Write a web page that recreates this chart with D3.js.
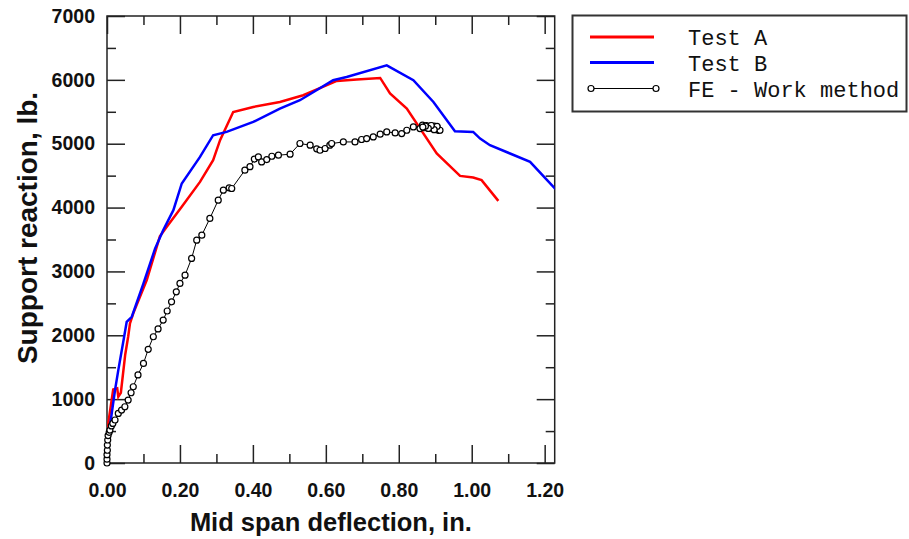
<!DOCTYPE html>
<html>
<head>
<meta charset="utf-8">
<script src="https://cdn.jsdelivr.net/npm/d3@7"></script>
<style>
  body { margin: 0; background: #fff; }
  svg { display: block; }
</style>
</head>
<body>
<div id="canvas"></div>
<script>
// deflection (in.) and support reaction (lb.)
const testAx = [0, 0.004, 0.017, 0.028, 0.031, 0.038, 0.05, 0.058, 0.063, 0.072, 0.109, 0.145, 0.164, 0.205, 0.255, 0.291, 0.31, 0.346, 0.401, 0.474, 0.538, 0.63, 0.685, 0.749, 0.776, 0.822, 0.904, 0.968, 1.004, 1.027, 1.073]
const testAy = [0, 646, 1150, 1169, 1038, 1100, 1700, 1977, 2186, 2343, 2864, 3550, 3700, 4011, 4402, 4742, 5055, 5497, 5576, 5654, 5759, 5983, 6004, 6030, 5786, 5551, 4847, 4496, 4471, 4429, 4105]

const testBx = [0, 0.001, 0.004, 0.013, 0.022, 0.031, 0.047, 0.054, 0.068, 0.1, 0.132, 0.154, 0.182, 0.205, 0.255, 0.291, 0.328, 0.401, 0.474, 0.529, 0.62, 0.657, 0.767, 0.84, 0.895, 0.954, 1.004, 1.023, 1.05, 1.105, 1.16, 1.224, 1.23]
const testBy = [0, 150, 410, 776, 1142, 1455, 1977, 2211, 2290, 2812, 3360, 3646, 3959, 4377, 4793, 5133, 5185, 5341, 5551, 5681, 5994, 6046, 6228, 5994, 5654, 5196, 5185, 5081, 4977, 4847, 4716, 4325, 4290]

const feX = [0, 0, 0, 0.001, 0.001, 0.002, 0.003, 0.006, 0.008, 0.012, 0.016, 0.022, 0.031, 0.04, 0.049, 0.058, 0.066, 0.072, 0.085, 0.1, 0.113, 0.127, 0.14, 0.154, 0.165, 0.177, 0.19, 0.2, 0.214, 0.232, 0.246, 0.26, 0.282, 0.305, 0.319, 0.335, 0.342, 0.378, 0.392, 0.404, 0.415, 0.424, 0.438, 0.452, 0.47, 0.502, 0.529, 0.557, 0.575, 0.584, 0.598, 0.611, 0.616, 0.648, 0.68, 0.698, 0.712, 0.73, 0.749, 0.767, 0.79, 0.808, 0.822, 0.84, 0.858, 0.865, 0.87, 0.876, 0.882, 0.888, 0.893, 0.897, 0.901, 0.905, 0.909, 0.913, 0.905, 0.897, 0.889, 0.881, 0.873, 0.866]
const feY = [0, 60, 130, 200, 280, 360, 430, 480, 516, 580, 620, 673, 776, 829, 881, 986, 1100, 1194, 1380, 1560, 1780, 1977, 2100, 2238, 2380, 2524, 2680, 2812, 2942, 3204, 3490, 3568, 3830, 4116, 4272, 4310, 4299, 4585, 4640, 4760, 4793, 4715, 4752, 4804, 4820, 4836, 5003, 4977, 4920, 4898, 4925, 4977, 5003, 5028, 5028, 5066, 5081, 5107, 5149, 5185, 5169, 5159, 5211, 5263, 5237, 5290, 5250, 5285, 5255, 5280, 5240, 5275, 5230, 5260, 5210, 5211, 5270, 5220, 5285, 5240, 5275, 5260]

const xMajor = [0, 0.2, 0.4, 0.6, 0.8, 1.0, 1.2]
const xMinor = [0.1, 0.3, 0.5, 0.7, 0.9, 1.1]
const yMajor = [0, 1000, 2000, 3000, 4000, 5000, 6000, 7000]
const yMinor = [500, 1500, 2500, 3500, 4500, 5500, 6500]

const seriesNames = ['Test A', 'Test B', 'FE - Work method']
const seriesColors = ['#ff0000', '#0000ff', '#000000']

const width = 909
const height = 539
const margin = { top: 16, right: 354.3, bottom: 76, left: 107 }

const svg = d3.select('#canvas')
  .append('svg')
    .attr('width', width)
    .attr('height', height)

const x = d3.scaleLinear()
  .domain([0, 1.2275])
  .range([margin.left, width - margin.right])
const y = d3.scaleLinear()
  .domain([0, 7000])
  .range([height - margin.bottom, margin.top])

const x0 = x.range()[0], x1 = x.range()[1]
const y0 = y.range()[0], y1 = y.range()[1]

function tickStyle(g) {
  g.select('.domain').remove()
  g.selectAll('.tick line').attr('stroke', '#222').attr('stroke-width', 1.5)
  g.selectAll('.tick text')
    .attr('fill', '#111')
    .style('font-family', '"Liberation Sans", Arial, sans-serif')
    .style('font-weight', 'bold')
    .style('font-size', '19.5px')
}

// bottom
svg.append('g')
  .attr('transform', `translate(0, ${y0})`)
  .call(d3.axisBottom(x).tickValues(xMajor).tickSize(-18).tickPadding(20).tickFormat(d3.format('.2f')))
  .call(tickStyle)
svg.append('g')
  .attr('transform', `translate(0, ${y0})`)
  .call(d3.axisBottom(x).tickValues(xMinor).tickSize(-9).tickFormat(''))
  .call(tickStyle)
// top
svg.append('g')
  .attr('transform', `translate(0, ${y1})`)
  .call(d3.axisTop(x).tickValues(xMajor).tickSize(-18).tickFormat(''))
  .call(tickStyle)
svg.append('g')
  .attr('transform', `translate(0, ${y1})`)
  .call(d3.axisTop(x).tickValues(xMinor).tickSize(-9).tickFormat(''))
  .call(tickStyle)
// left
svg.append('g')
  .attr('transform', `translate(${x0}, 0)`)
  .call(d3.axisLeft(y).tickValues(yMajor).tickSize(-18).tickPadding(12).tickFormat(d3.format('d')))
  .call(tickStyle)
svg.append('g')
  .attr('transform', `translate(${x0}, 0)`)
  .call(d3.axisLeft(y).tickValues(yMinor).tickSize(-9).tickFormat(''))
  .call(tickStyle)
// right
svg.append('g')
  .attr('transform', `translate(${x1}, 0)`)
  .call(d3.axisRight(y).tickValues(yMajor).tickSize(-18).tickFormat(''))
  .call(tickStyle)
svg.append('g')
  .attr('transform', `translate(${x1}, 0)`)
  .call(d3.axisRight(y).tickValues(yMinor).tickSize(-9).tickFormat(''))
  .call(tickStyle)

svg.append('rect')
  .attr('x', x0).attr('y', y1)
  .attr('width', x1 - x0).attr('height', y0 - y1)
  .attr('fill', 'none')
  .attr('stroke', '#222')
  .attr('stroke-width', 1.5)

// axis titles
svg.append('text')
  .attr('x', (x0 + x1) / 2)
  .attr('y', 531)
  .attr('text-anchor', 'middle')
  .style('font-family', '"Liberation Sans", Arial, sans-serif')
  .style('font-weight', 'bold')
  .style('font-size', '25.5px')
  .attr('fill', '#111')
  .text('Mid span deflection, in.')

svg.append('text')
  .attr('transform', `translate(37, 228) rotate(-90)`)
  .attr('text-anchor', 'middle')
  .style('font-family', '"Liberation Sans", Arial, sans-serif')
  .style('font-weight', 'bold')
  .style('font-size', '28px')
  .attr('fill', '#111')
  .text('Support reaction, lb.')

// lines
svg.append('clipPath').attr('id', 'plot-clip')
  .append('rect')
  .attr('x', x0).attr('y', y1)
  .attr('width', x1 - x0).attr('height', y0 - y1)

const line = d3.line()
  .x(d => x(d[0]))
  .y(d => y(d[1]))

const dataA = d3.zip(testAx, testAy)
const dataB = d3.zip(testBx, testBy)
const dataFE = d3.zip(feX, feY)

const plot = svg.append('g').attr('clip-path', 'url(#plot-clip)')

plot.append('path')
  .datum(dataFE)
  .attr('d', line)
  .attr('fill', 'none')
  .attr('stroke', '#000')
  .attr('stroke-width', 1)

plot.append('path')
  .datum(dataA)
  .attr('d', line)
  .attr('fill', 'none')
  .attr('stroke', seriesColors[0])
  .attr('stroke-width', 2.5)

plot.append('path')
  .datum(dataB)
  .attr('d', line)
  .attr('fill', 'none')
  .attr('stroke', seriesColors[1])
  .attr('stroke-width', 2.5)

svg.append('g')
  .selectAll('circle')
  .data(dataFE)
  .enter()
  .append('circle')
    .attr('cx', d => x(d[0]))
    .attr('cy', d => y(d[1]))
    .attr('r', 3)
    .attr('fill', '#fff')
    .attr('stroke', '#000')
    .attr('stroke-width', 1.2)

// legend
const legend = svg.append('g')
legend.append('rect')
  .attr('x', 572.5).attr('y', 15.5)
  .attr('width', 334).attr('height', 96)
  .attr('fill', '#fff')
  .attr('stroke', '#333')
  .attr('stroke-width', 2)

const legendY = [37, 62.5, 88.5]
seriesNames.forEach((name, i) => {
  legend.append('line')
    .attr('x1', 590).attr('x2', 654)
    .attr('y1', legendY[i]).attr('y2', legendY[i])
    .attr('stroke', seriesColors[i])
    .attr('stroke-width', i < 2 ? 3 : 1.2)
  if (i === 2) {
    [591, 656].forEach(cx => {
      legend.append('circle')
        .attr('cx', cx).attr('cy', legendY[i])
        .attr('r', 3)
        .attr('fill', '#fff')
        .attr('stroke', '#000')
        .attr('stroke-width', 1.2)
    })
  }
  legend.append('text')
    .attr('x', 688)
    .attr('y', legendY[i] + 8)
    .style('font-family', '"Liberation Mono", "Courier New", monospace')
    .style('font-size', '22px')
    .attr('fill', '#111')
    .text(name)
})
</script>
</body>
</html>
